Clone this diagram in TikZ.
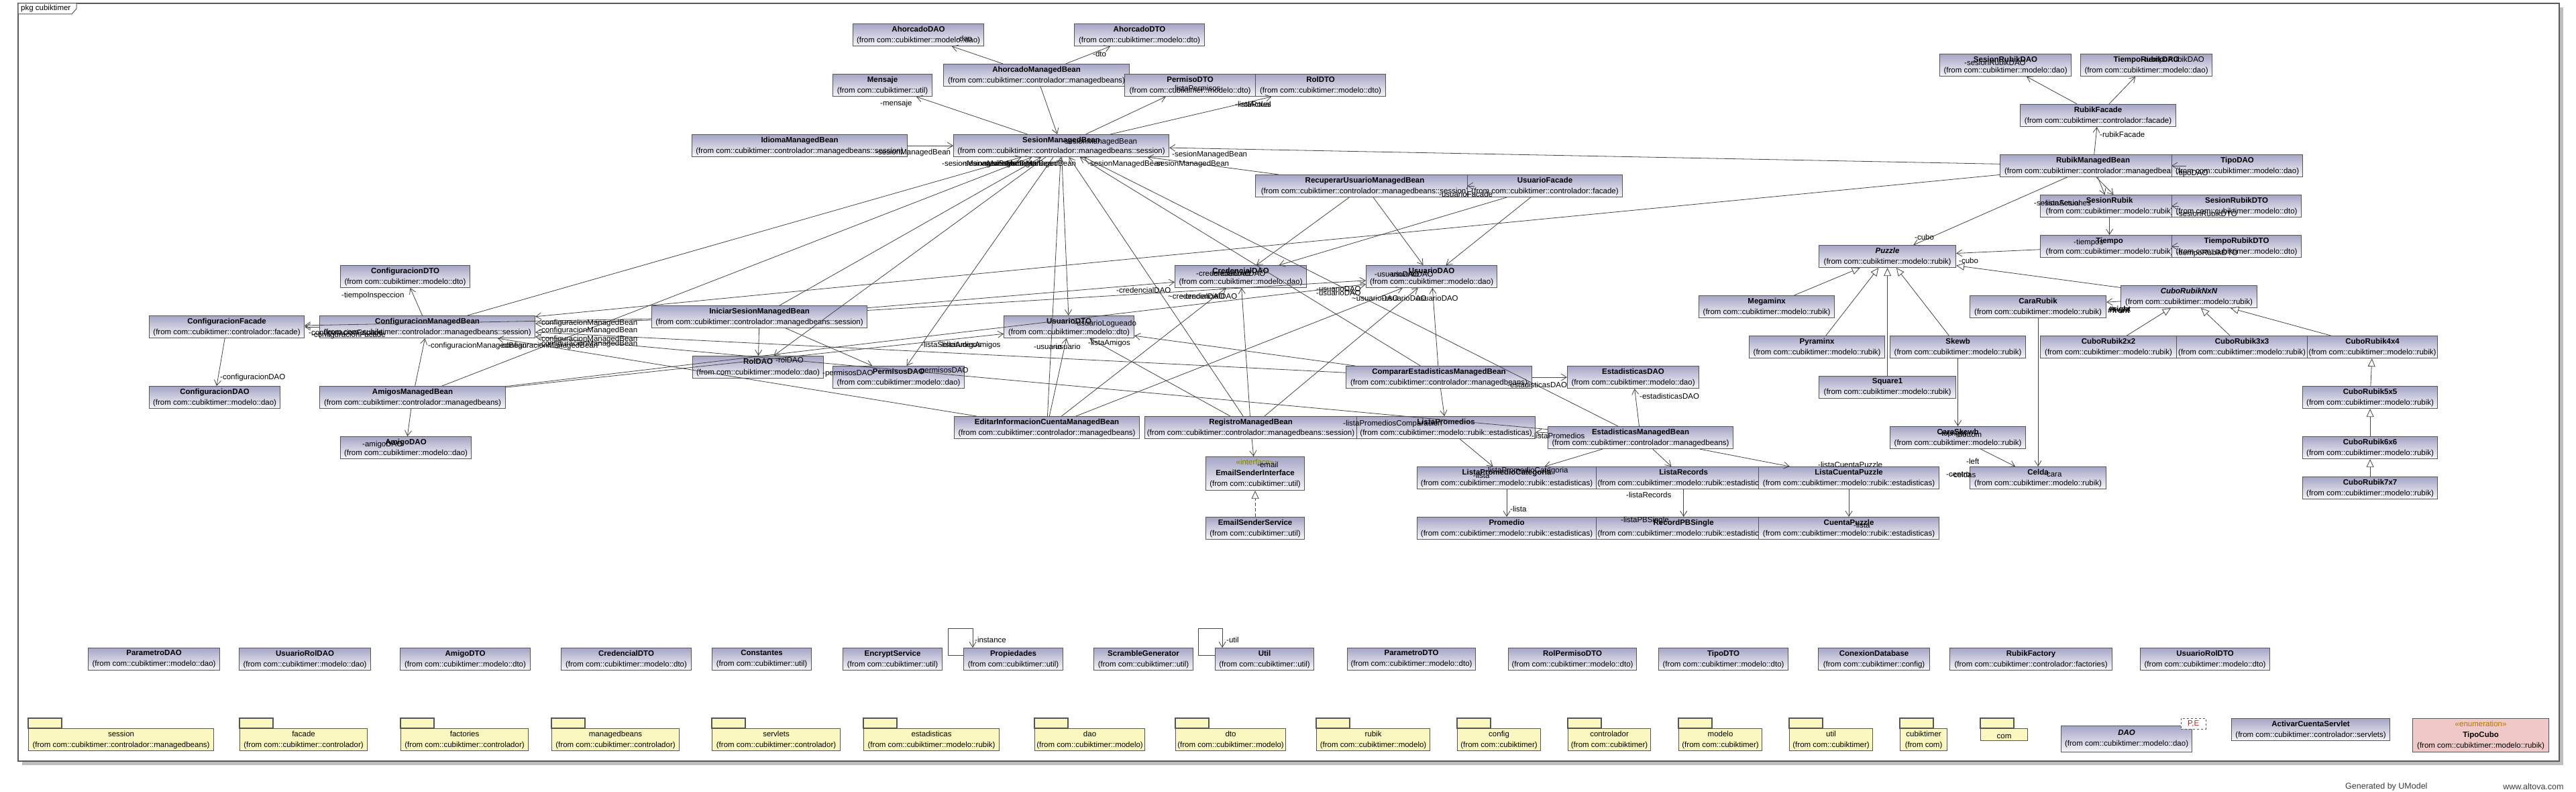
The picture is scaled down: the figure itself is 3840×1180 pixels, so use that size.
\documentclass[tikz,border=0pt]{standalone}
\usepackage{fontspec}
\setmainfont{Liberation Sans}
\usepackage{tikz}
\usetikzlibrary{arrows.meta}

\begin{document}
\begin{tikzpicture}[x=1pt, y=-1pt]
  % Colors
  \definecolor{clstop}{RGB}{165,165,198}
  \definecolor{clsbot}{RGB}{246,246,250}
  \definecolor{clsline}{RGB}{85,85,85}
  \definecolor{conncol}{RGB}{70,70,70}
  \definecolor{framecol}{RGB}{90,90,90}
  \definecolor{shadowcol}{RGB}{190,190,190}
  \definecolor{pkgcol}{RGB}{250,248,190}
  \definecolor{enumcol}{RGB}{240,200,200}
  \definecolor{stereocol}{RGB}{128,128,0}
  \definecolor{enumst}{RGB}{175,120,0}
  \definecolor{tplcol}{RGB}{170,40,40}
  \definecolor{footcol}{RGB}{60,60,60}
  %
  \def\ct{com::cubiktimer::}
  %
  \tikzset{
    basebox/.style={draw=clsline, line width=1.1pt, anchor=north west, minimum height=33pt,
                    inner xsep=2pt, inner ysep=0pt, align=center,
                    font=\fontsize{11.5}{16}\selectfont,
                    execute at begin node={\rule{0pt}{12pt}}},
    cls/.style={basebox, top color=clstop, bottom color=clsbot},
    pkg/.style={basebox, fill=pkgcol},
    enm/.style={basebox, fill=enumcol, minimum height=50pt},
    tab/.style={draw=clsline, line width=1.1pt, fill=pkgcol},
    assoc/.style={draw=conncol, line width=0.8pt, -{Straight Barb[length=8pt, width=10pt]}},
    gener/.style={draw=conncol, line width=0.8pt, -{Triangle[open, fill=white, length=12pt, width=11pt]}},
    realiz/.style={gener, dash pattern=on 5pt off 3pt},
    role/.style={font=\fontsize{11.5}{13}\selectfont, inner sep=0pt, anchor=west},
  }
  %
  \useasboundingbox (0,0) rectangle (3840,1180);
  %
  %%% FRAME %%%
  \fill[shadowcol] (33,11) rectangle (3821,1140);
  \draw[draw=framecol, line width=1.5pt, fill=white] (27,5) rectangle (3815,1134);
  \draw[draw=framecol, line width=1pt, fill=white] (27,5) -- (114,5) -- (114,13) -- (107,21) -- (27,21) -- cycle;
  \node[anchor=west, inner sep=0pt, font=\fontsize{11.5}{13}\selectfont] (frametitle) at (31,13) {pkg cubiktimer};
  %
  %%% CLASSES %%%
  % --- session and ahorcado ---
  \node[cls, minimum width=195pt] (ahdao) at (1271,35) {\textbf{AhorcadoDAO}\\(from \ct modelo::dao)};
  \node[cls, minimum width=194pt] (ahdto) at (1601,35) {\textbf{AhorcadoDTO}\\(from \ct modelo::dto)};
  \node[cls, minimum width=148pt] (mensaje) at (1241,110) {\textbf{Mensaje}\\(from \ct util)};
  \node[cls, minimum width=277pt] (ahmb) at (1406,95) {\textbf{AhorcadoManagedBean}\\(from \ct controlador::managedbeans)};
  \node[cls, minimum width=195pt] (permisodto) at (1676,110) {\textbf{PermisoDTO}\\(from \ct modelo::dto)};
  \node[cls, minimum width=194pt] (roldto) at (1871,110) {\textbf{RolDTO}\\(from \ct modelo::dto)};
  \node[cls, minimum width=321pt] (idioma) at (1031,200) {\textbf{IdiomaManagedBean}\\(from \ct controlador::managedbeans::session)};
  \node[cls, minimum width=321pt] (smb) at (1421,200) {\textbf{SesionManagedBean}\\(from \ct controlador::managedbeans::session)};
  \node[cls, minimum width=326pt] (rumb) at (1871,260) {\textbf{RecuperarUsuarioManagedBean}\\(from \ct controlador::managedbeans::session)};
  \node[cls, minimum width=231pt] (ufacade) at (2187,260) {\textbf{UsuarioFacade}\\(from \ct controlador::facade)};
  \node[cls, minimum width=196pt] (credao) at (1751,395) {\textbf{CredencialDAO}\\(from \ct modelo::dao)};
  \node[cls, minimum width=195pt] (usudao) at (2036,395) {\textbf{UsuarioDAO}\\(from \ct modelo::dao)};
  \node[cls, minimum width=194pt] (usudto) at (1496,470) {\textbf{UsuarioDTO}\\(from \ct modelo::dto)};
  \node[cls, minimum width=195pt] (roldao) at (1032,530) {\textbf{RolDAO}\\(from \ct modelo::dao)};
  \node[cls, minimum width=196pt] (permdao) at (1241,545) {\textbf{PermisosDAO}\\(from \ct modelo::dao)};
  %
  % --- configuracion ---
  \node[cls, minimum width=193pt] (cdto) at (507,395) {\textbf{ConfiguracionDTO}\\(from \ct modelo::dto)};
  \node[cls, minimum width=231pt] (cfacade) at (222,470) {\textbf{ConfiguracionFacade}\\(from \ct controlador::facade)};
  \node[cls, minimum width=321pt] (cmb) at (476,470) {\textbf{ConfiguracionManagedBean}\\(from \ct controlador::managedbeans::session)};
  \node[cls, minimum width=321pt] (ismb) at (971,455) {\textbf{IniciarSesionManagedBean}\\(from \ct controlador::managedbeans::session)};
  \node[cls, minimum width=195pt] (cdao) at (222,575) {\textbf{ConfiguracionDAO}\\(from \ct modelo::dao)};
  \node[cls, minimum width=277pt] (amigosmb) at (476,575) {\textbf{AmigosManagedBean}\\(from \ct controlador::managedbeans)};
  \node[cls, minimum width=195pt] (amigodao) at (507,650) {\textbf{AmigoDAO}\\(from \ct modelo::dao)};
  %
  % --- estadisticas ---
  \node[cls, minimum width=276pt] (editar) at (1422,620) {\textbf{EditarInformacionCuentaManagedBean}\\(from \ct controlador::managedbeans)};
  \node[cls, minimum width=316pt] (registro) at (1706,620) {\textbf{RegistroManagedBean}\\(from \ct controlador::managedbeans::session)};
  \node[cls, minimum width=266pt] (listaprom) at (2022,620) {\textbf{ListaPromedios}\\(from \ct modelo::rubik::estadisticas)};
  \node[cls, minimum width=277pt] (comparar) at (2006,545) {\textbf{CompararEstadisticasManagedBean}\\(from \ct controlador::managedbeans)};
  \node[cls, minimum width=196pt] (estdao) at (2336,545) {\textbf{EstadisticasDAO}\\(from \ct modelo::dao)};
  \node[cls, minimum width=276pt] (estmb) at (2307,635) {\textbf{EstadisticasManagedBean}\\(from \ct controlador::managedbeans)};
  \node[cls, minimum width=267pt] (lpcat) at (2112,695) {\textbf{ListaPromedioCategoria}\\(from \ct modelo::rubik::estadisticas)};
  \node[cls, minimum width=242pt] (listarec) at (2379,695) {\textbf{ListaRecords}\\(from \ct modelo::rubik::estadisticas)};
  \node[cls, minimum width=269pt] (lcp) at (2621,695) {\textbf{ListaCuentaPuzzle}\\(from \ct modelo::rubik::estadisticas)};
  \node[cls, minimum width=267pt] (promedio) at (2112,770) {\textbf{Promedio}\\(from \ct modelo::rubik::estadisticas)};
  \node[cls, minimum width=242pt] (recordpb) at (2379,770) {\textbf{RecordPBSingle}\\(from \ct modelo::rubik::estadisticas)};
  \node[cls, minimum width=269pt] (cuentapuzzle) at (2621,770) {\textbf{CuentaPuzzle}\\(from \ct modelo::rubik::estadisticas)};
  \node[cls, minimum width=147pt, minimum height=50pt] (emailsi) at (1797,680) {\textcolor{stereocol}{«interface»}\\\textbf{EmailSenderInterface}\\(from \ct util)};
  \node[cls, minimum width=147pt] (emailss) at (1797,770) {\textbf{EmailSenderService}\\(from \ct util)};
  %
  % --- rubik ---
  \node[cls, minimum width=196pt] (srdao) at (2891,80) {\textbf{SesionRubikDAO}\\(from \ct modelo::dao)};
  \node[cls, minimum width=196pt] (trdao) at (3101,80) {\textbf{TiempoRubikDAO}\\(from \ct modelo::dao)};
  \node[cls, minimum width=232pt] (rubikfacade) at (3011,155) {\textbf{RubikFacade}\\(from \ct controlador::facade)};
  \node[cls, minimum width=277pt] (rubikmb) at (2981,230) {\textbf{RubikManagedBean}\\(from \ct controlador::managedbeans)};
  \node[cls, minimum width=195pt] (tipodao) at (3237,230) {\textbf{TipoDAO}\\(from \ct modelo::dao)};
  \node[cls, minimum width=206pt] (sesionrubik) at (3041,290) {\textbf{SesionRubik}\\(from \ct modelo::rubik)};
  \node[cls, minimum width=193pt] (srdto) at (3237,290) {\textbf{SesionRubikDTO}\\(from \ct modelo::dto)};
  \node[cls, minimum width=206pt] (tiempo) at (3041,350) {\textbf{Tiempo}\\(from \ct modelo::rubik)};
  \node[cls, minimum width=193pt] (trdto) at (3237,350) {\textbf{TiempoRubikDTO}\\(from \ct modelo::dto)};
  \node[cls, minimum width=204pt] (puzzle) at (2711,365) {\textbf{\textit{Puzzle}}\\(from \ct modelo::rubik)};
  \node[cls, minimum width=202pt] (megaminx) at (2532,440) {\textbf{Megaminx}\\(from \ct modelo::rubik)};
  \node[cls, minimum width=203pt] (cararubik) at (2936,440) {\textbf{CaraRubik}\\(from \ct modelo::rubik)};
  \node[cls, minimum width=203pt] (cubonxn) at (3161,425) {\textbf{\textit{CuboRubikNxN}}\\(from \ct modelo::rubik)};
  \node[cls, minimum width=202pt] (pyraminx) at (2607,500) {\textbf{Pyraminx}\\(from \ct modelo::rubik)};
  \node[cls, minimum width=202pt] (skewb) at (2817,500) {\textbf{Skewb}\\(from \ct modelo::rubik)};
  \node[cls, minimum width=203pt] (c2) at (3041,500) {\textbf{CuboRubik2x2}\\(from \ct modelo::rubik)};
  \node[cls, minimum width=195pt] (c3) at (3244,500) {\textbf{CuboRubik3x3}\\(from \ct modelo::rubik)};
  \node[cls, minimum width=194pt] (c4) at (3439,500) {\textbf{CuboRubik4x4}\\(from \ct modelo::rubik)};
  \node[cls, minimum width=204pt] (square1) at (2711,560) {\textbf{Square1}\\(from \ct modelo::rubik)};
  \node[cls, minimum width=201pt] (c5) at (3432,575) {\textbf{CuboRubik5x5}\\(from \ct modelo::rubik)};
  \node[cls, minimum width=201pt] (c6) at (3432,650) {\textbf{CuboRubik6x6}\\(from \ct modelo::rubik)};
  \node[cls, minimum width=201pt] (c7) at (3432,710) {\textbf{CuboRubik7x7}\\(from \ct modelo::rubik)};
  \node[cls, minimum width=202pt] (caraskewb) at (2817,635) {\textbf{CaraSkewb}\\(from \ct modelo::rubik)};
  \node[cls, minimum width=203pt] (celda) at (2936,695) {\textbf{Celda}\\(from \ct modelo::rubik)};
  %
  % --- loose classes (row 1) ---
  \foreach \x/\w/\nm/\pk in {
    131/196/ParametroDAO/modelo::dao, 356/196/UsuarioRolDAO/modelo::dao,
    596/194/AmigoDTO/modelo::dto, 836/194/CredencialDTO/modelo::dto,
    1061/148/Constantes/util, 1256/148/EncryptService/util,
    1436/148/Propiedades/util, 1630/148/ScrambleGenerator/util,
    1811/147/Util/util, 2008/191/ParametroDTO/modelo::dto,
    2248/191/RolPermisoDTO/modelo::dto, 2472/193/TipoDTO/modelo::dto,
    2710/166/ConexionDatabase/config, 2906/242/RubikFactory/controlador::factories,
    3190/193/UsuarioRolDTO/modelo::dto%
  } {
    \node[cls, minimum width=\w pt] (\nm) at (\x,965) {\textbf{\nm}\\(from \ct\pk)};
  }
  %
  % --- packages (row 2) ---
  \foreach \x/\w/\nm/\pk in {
    42/276/session/{\ct controlador::managedbeans}, 357/190/facade/{\ct controlador},
    597/190/factories/{\ct controlador}, 822/190/managedbeans/{\ct controlador},
    1061/191/servlets/{\ct controlador}, 1287/202/estadisticas/{\ct modelo::rubik},
    1542/164/dao/{\ct modelo}, 1752/164/dto/{\ct modelo},
    1962/169/rubik/{\ct modelo}, 2172/124/config/{com::cubiktimer},
    2337/123/controlador/{com::cubiktimer}, 2502/124/modelo/{com::cubiktimer},
    2667/124/util/{com::cubiktimer}, 2832/70/cubiktimer/{com}%
  } {
    \draw[tab] (\x,1070) rectangle ++(50,15);
    \node[pkg, minimum width=\w pt] (p-\nm) at (\x,1085) {\nm\\(from \pk)};
  }
  \draw[tab] (2952,1070) rectangle ++(50,15);
  \node[pkg, minimum width=70pt, minimum height=18pt] (p-com) at (2952,1085) {com};
  %
  \node[cls, minimum width=195pt, minimum height=39pt] (dao) at (3072,1081) {\textbf{\textit{DAO}}\\(from \ct modelo::dao)};
  \node[draw=clsline, dashed, fill=white, anchor=north west, minimum width=37pt, minimum height=16pt,
        inner sep=0pt, text=tplcol, font=\fontsize{11.5}{13}\selectfont] (daotpl) at (3251,1070) {P,E};
  \node[cls, minimum width=236pt] (activar) at (3326,1070) {\textbf{ActivarCuentaServlet}\\(from \ct controlador::servlets)};
  \node[enm, minimum width=203pt] (tipocubo) at (3596,1070) {\textcolor{enumst}{«enumeration»}\\\textbf{TipoCubo}\\(from \ct modelo::rubik)};
  %
  %%% CONNECTORS %%%
  \foreach \a/\b in {
    ahmb/ahdao, ahmb/ahdto, ahmb/smb, smb/mensaje, smb/permisodto, smb/roldto,
    idioma/smb, rubikmb/smb, rumb/smb, cmb/smb, amigosmb/smb, ismb/smb,
    editar/smb, registro/smb, comparar/smb, estmb/smb,
    smb/usudto, smb/permdao, smb/roldao, ismb/roldao, ismb/permdao,
    ismb/cmb, ismb/cfacade, ismb/credao, ismb/usudao,
    rubikmb/cmb, comparar/cmb, estmb/cmb, editar/cmb, amigosmb/cmb,
    cmb/cfacade, cmb/cdto, cfacade/cdao, amigosmb/amigodao, amigosmb/usudto, amigosmb/usudao,
    editar/usudto, registro/usudto, comparar/usudto,
    registro/credao, editar/credao, registro/usudao, editar/usudao, comparar/usudao,
    rumb/credao, ufacade/credao, rumb/usudao, ufacade/usudao,
    comparar/estdao, estmb/estdao, comparar/listaprom, estmb/listaprom,
    listaprom/lpcat, estmb/lpcat, estmb/listarec, estmb/lcp,
    lpcat/promedio, listarec/recordpb, lcp/cuentapuzzle, registro/emailsi,
    rubikmb/rubikfacade, rubikfacade/srdao, rubikfacade/trdao, rubikmb/sesionrubik,
    sesionrubik/tiempo, tiempo/puzzle, rubikmb/puzzle, cubonxn/cararubik,
    cararubik/celda, skewb/caraskewb, caraskewb/celda%
  } {
    \draw[assoc] (\a) -- (\b);
  }
  % neighbours that overlap
  \draw[assoc] (rumb.east) -- (ufacade.west);
  \draw[assoc] (rubikmb.east) -- (tipodao.west);
  \draw[assoc] (sesionrubik.east) -- (srdto.west);
  \draw[assoc] (tiempo.east) -- (trdto.west);
  \draw[assoc] ([xshift=5pt]rubikmb.south) -- ([xshift=6pt]sesionrubik.north);
  % self references
  \draw[assoc] ([yshift=6pt]Propiedades.west) -- ++(-23,0) -- ++(0,-40) -| ([xshift=14pt]Propiedades.north west);
  \draw[assoc] ([yshift=6pt]Util.west) -- ++(-25,0) -- ++(0,-40) -| ([xshift=11pt]Util.north west);
  % inheritance
  \foreach \a/\b in {
    cubonxn/puzzle, megaminx/puzzle, pyraminx/puzzle, square1/puzzle, skewb/puzzle,
    c2/cubonxn, c3/cubonxn, c4/cubonxn, c5/c4, c6/c5, c7/c6%
  } {
    \draw[gener] (\a) -- (\b);
  }
  \draw[realiz] (emailss) -- (emailsi);
  %
  %%% ROLE NAMES %%%
  \foreach \txt/\lx/\ly [count=\n] in {
    {-dao}/1426/57, {-dto}/1629/80, {-sesionManagedBean}/1583/212, {-mensaje}/1312/155,
    {-listaPermisos}/1747/131, {-listaRoles}/1841/155, {-rolActual}/1846/155,
    {-sesionManagedBean}/1305/228, {-sesionManagedBean}/1747/231,
    {-sesionManagedBean}/1404/245, {-sesionManagedBean}/1434/245,
    {-sesionManagedBean}/1463/245, {-sesionManagedBean}/1492/245,
    {-sesionManagedBean}/1621/245, {-sesionManagedBean}/1720/245,
    {-usuarioLogueado}/1601/483, {-permisosDAO}/1368/553, {-permisosDAO}/1226/557, {-rolDAO}/1156/536,
    {-configuracionManagedBean}/803/482, {-configuracionManagedBean}/803/493,
    {-configuracionManagedBean}/803/506, {-configuracionManagedBean}/803/513,
    {-configuracionManagedBean}/638/516, {-configuracionManagedBean}/744/516,
    {-configuracionFacade}/460/497, {-configuracionFacade}/464/500,
    {-tiempoInspeccion}/509/441,
    {-configuracionDAO}/328/563, {-amigoDAO}/540/663,
    {-listaSolicitudesAmigos}/1373/515, {-listaAmigos}/1400/515,
    {-usuario}/1541/516, {-usuario}/1569/516, {-listaAmigos}/1622/512,
    {-credencialDAO}/1664/432, {\textasciitilde credencialDAO}/1741/441, {\textasciitilde credencialDAO}/1760/441,
    {-credencialDAO}/1783/407, {-credencialDAO}/1805/407,
    {-usuarioDAO}/1962/430, {-usuarioDAO}/1962/436,
    {\textasciitilde usuarioDAO}/2015/444, {-usuarioDAO}/2060/444, {-usuarioDAO}/2107/444,
    {-usuarioDAO}/2049/408, {-usuarioDAO}/2070/408, {-usuarioFacade}/2145/289,
    {-estadisticasDAO}/2247/573, {-estadisticasDAO}/2444/590,
    {-listaPromediosComparacion}/2002/632, {-listaPromedios}/2283/649,
    {-listaPromedioCategoria}/2214/702, {-lista}/2196/708, {-listaCuentaPuzzle}/2710/692,
    {-lista}/2251/758, {-listaRecords}/2424/737, {-listaPBSingle}/2416/776, {-lista}/2763/782,
    {-email}/1874/692,
    {-rubikFacade}/3130/200, {-sesionRubikDAO}/2928/93, {-tiempoRubikDAO}/3193/90,
    {-tipoDAO}/3244/259, {-sesionActual}/3032/302, {-listaSesiones}/3045/302,
    {-sesionRubikDTO}/3244/318, {-tiempos}/3091/362, {-tiempoRubikDTO}/3244/378,
    {-cubo}/2920/388, {-cubo}/2854/353,
    {\textbf{\#front}}/3142/462, {\textbf{\#right}}/3144/462,
    {-top}/2890/647, {-right}/2905/647, {-bottom}/2915/647, {-left}/2931/687,
    {-centro}/2901/707, {-celdas}/2908/707, {-cara}/3047/707,
    {-instance}/1453/953, {-util}/1828/953%
  } {
    \node[role] (r\n) at (\lx,\ly) {\txt};
  }
  %
  %%% FOOTER %%%
  \node[anchor=west, inner sep=0pt, text=footcol, font=\fontsize{12.5}{14}\selectfont] (generated) at (3496,1172) {Generated by UModel};
  \node[anchor=west, inner sep=0pt, text=footcol, font=\fontsize{12.5}{14}\selectfont] (website) at (3731,1172) {www.altova.com};
\end{tikzpicture}
\end{document}
